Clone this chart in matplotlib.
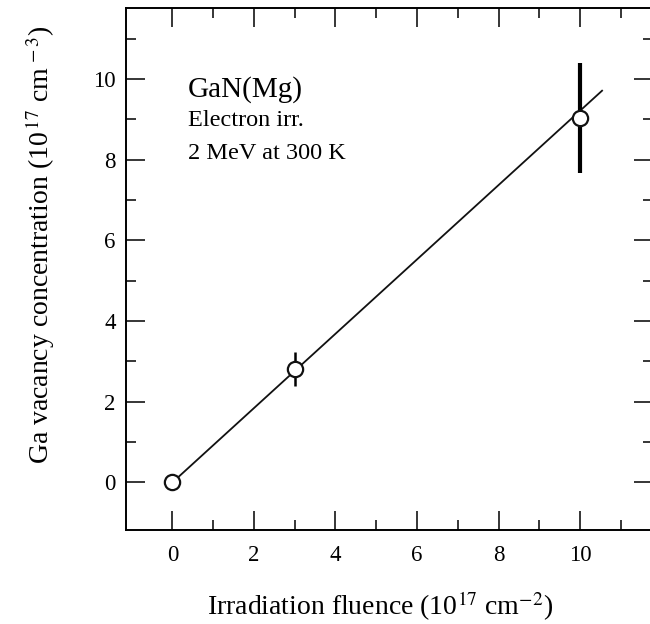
import matplotlib
matplotlib.use('Agg')
import matplotlib.pyplot as plt
import numpy as np

# data
fluence = np.array([0.0, 3.0, 10.0])          # 10^17 cm^-2
conc = np.array([0.0, 2.81, 9.04])            # 10^17 cm^-3
conc_err = np.array([0.0, 0.43, 1.36])
fit_x = np.array([0.0, 10.54])
fit_y = np.array([0.0, 9.71])

info_lines = ["GaN(Mg)", "Electron irr.", "2 MeV at 300 K"]

plt.rcParams['font.family'] = ['Liberation Serif', 'DejaVu Serif']
plt.rcParams['mathtext.fontset'] = 'stix'

fig = plt.figure(figsize=(6.5, 6.24), dpi=100)
ax = fig.add_axes([126 / 650, 94 / 624, 527 / 650, 522 / 624])

# fitted line
ax.plot(fit_x, fit_y, '-', color='#111111', linewidth=1.3, zorder=2)

# error bars (thicker for the last point, as in the original)
ax.vlines(fluence, conc - conc_err, conc + conc_err,
          colors='black', linewidths=[1.5, 1.8, 3.0], zorder=3)

ax.plot(fluence, conc, 'o', markersize=11, markerfacecolor='white',
        markeredgecolor='#111111', markeredgewidth=1.6, zorder=4)

ax.text(0.38, 9.56, info_lines[0], fontsize=21, va='baseline')
ax.text(0.38, 8.83, info_lines[1], fontsize=17.5, va='baseline')
ax.text(0.38, 8.02, info_lines[2], fontsize=17.5, va='baseline')

ax.set_xlim(-1.14, 11.79)
ax.set_ylim(-1.18, 11.76)
ax.set_xticks([0, 2, 4, 6, 8, 10])
ax.set_yticks([0, 2, 4, 6, 8, 10])
ax.set_xticks(np.arange(0, 12, 1), minor=True)
ax.set_yticks(np.arange(0, 12, 1), minor=True)

ax.tick_params(which='both', direction='in', top=True, right=True,
               width=1.1, labelsize=16.5)
ax.tick_params(axis='x', pad=11)
ax.tick_params(axis='y', pad=7.5)
ax.tick_params(which='major', length=14)
ax.tick_params(which='minor', length=7.5)
for sp in ax.spines.values():
    sp.set_linewidth(1.4)

ax.set_xlabel('Irradiation fluence (10$^{17}$ cm$^{-2}$)', fontsize=20)
ax.set_ylabel('Ga vacancy concentration (10$^{\\,17}$ cm$^{\\,-3}$)', fontsize=20)
ax.xaxis.set_label_coords(0.482, -0.115)
ax.yaxis.set_label_coords(-0.13, 0.546)

plt.savefig('out.png', dpi=100)
plt.close()
